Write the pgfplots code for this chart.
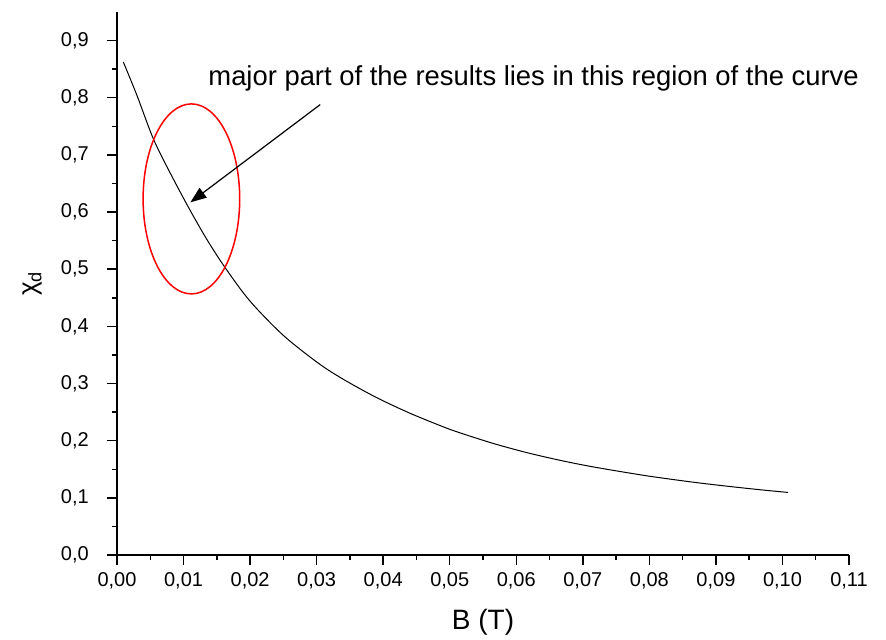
\documentclass[border=0pt]{standalone}
\usepackage{fontspec}
\setmainfont{Liberation Sans}
\usepackage{pgfplots}
\pgfplotsset{compat=1.18}
\usetikzlibrary{arrows.meta}
\begin{document}
\begin{tikzpicture}
\begin{axis}[
  scale only axis, width=366pt, height=271.5pt,
  xmin=0, xmax=0.11, ymin=0, ymax=0.95,
  axis lines*=left,
  axis line style={line width=0.75pt},
  xtick={0,0.01,0.02,0.03,0.04,0.05,0.06,0.07,0.08,0.09,0.10,0.11},
  ytick={0,0.1,0.2,0.3,0.4,0.5,0.6,0.7,0.8,0.9},
  minor tick num=1,
  tick align=outside,
  major tick length=5pt, minor tick length=2.5pt,
  every tick/.style={black, line width=0.75pt},
  scaled x ticks=false, scaled y ticks=false,
  x tick label style={/pgf/number format/fixed, /pgf/number format/fixed zerofill, /pgf/number format/precision=2, /pgf/number format/use comma, /pgf/number format/assume math mode=true},
  y tick label style={/tikz/xshift=-5.6pt, /pgf/number format/fixed, /pgf/number format/fixed zerofill, /pgf/number format/precision=1, /pgf/number format/use comma, /pgf/number format/assume math mode=true},
  tick label style={font=\fontsize{10}{12}\selectfont},
  xlabel={B (T)}, ylabel={χ\textsubscript{d}},
  every axis x label/.style={at={(axis description cs:0.5,-0.123)}, anchor=center, font=\fontsize{14}{16}\selectfont},
  every axis y label/.style={at={(axis description cs:-0.116,0.5)}, anchor=center, rotate=90, font=\fontsize{13}{16}\selectfont},
  clip=false,
]
\addplot[black, line width=0.5pt, smooth, tension=0.5] coordinates {
(0.00095,0.8626)
(0.0030,0.8040)
(0.00545,0.7284)
(0.00796,0.6690)
(0.01096,0.6036)
(0.01351,0.5520)
(0.01622,0.5032)
(0.01997,0.4444)
(0.02497,0.3845)
(0.03023,0.3358)
(0.03398,0.3076)
(0.03899,0.2755)
(0.04399,0.2482)
(0.04899,0.2244)
(0.05150,0.2139)
(0.05650,0.1953)
(0.06152,0.1793)
(0.06652,0.1658)
(0.07152,0.1542)
(0.07853,0.1405)
(0.08203,0.1345)
(0.08704,0.1267)
(0.09204,0.1199)
(0.09704,0.1137)
(0.10080,0.1095)
};
\draw[red, line width=0.75pt] (axis cs:0.01118,0.623) ellipse [x radius=24.15pt, y radius=47.5pt];
\draw[line width=0.6pt, -{Triangle[length=8pt,width=6pt]}] (axis cs:0.03054,0.788) -- (axis cs:0.01103,0.617);
\node[font=\fontsize{13.7}{16}\selectfont] at (axis cs:0.0626,0.833) {major part of the results lies in this region of the curve};
\end{axis}
\pgfresetboundingbox
\path (-58.5pt,-42.5pt) rectangle (384.5pt,277.5pt);
\end{tikzpicture}
\end{document}
